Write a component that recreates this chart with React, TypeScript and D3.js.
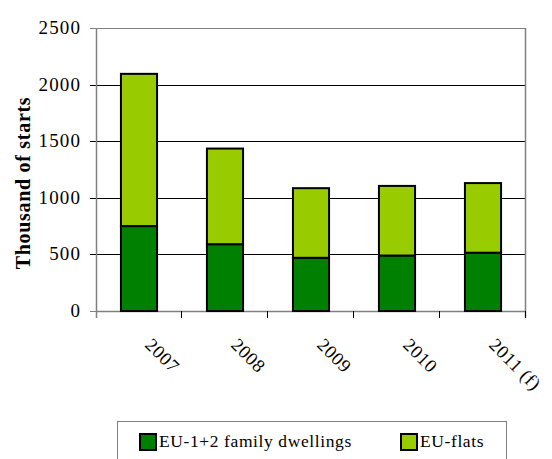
import React from "react";
import * as d3 from "d3";

const categories = ["2007", "2008", "2009", "2010", "2011 (f)"];
const familyDwellings = [750, 590, 470, 490, 515];
const flats = [1345, 845, 615, 615, 615];
const yTicks = [0, 500, 1000, 1500, 2000, 2500];
const seriesNames = ["EU-1+2 family dwellings", "EU-flats"];
const colors = ["#008000", "#99CC00"];

const W = 552, H = 459;
const left = 96, right = 526, top = 28, bottom = 311;
const FONT = "Liberation Serif, DejaVu Serif, serif";

export default function App() {
  const x = d3.scaleBand().domain(categories).range([left, right]).paddingInner(0.58).paddingOuter(0.29);
  const xb = d3.scaleBand().domain(categories).range([left, right]);
  const y = d3.scaleLinear().domain([0, 2500]).range([bottom, top]);
  const rows = categories.map((c, i) => ({ cat: c, a: familyDwellings[i], b: flats[i] }));
  const stack = d3.stack<any>().keys(["a", "b"])(rows);

  return (
    <svg width={W} height={H} style={{ position: "absolute", left: 0, top: 0, background: "#fff", fontFamily: FONT }}>
      {yTicks.map((t) => (
        <g key={t}>
          <line x1={left - 6} x2={t === 2500 || t === 0 ? left : right} y1={Math.round(y(t)) + 0.5} y2={Math.round(y(t)) + 0.5} stroke={t === 0 || t === 2500 ? "#808080" : "#000"} strokeWidth={1} />
          <text x={81} y={y(t) + 6} textAnchor="end" fontSize={19} fill="#000" letterSpacing={1.1}>{t}</text>
        </g>
      ))}
      <line x1={left} x2={right} y1={top + 0.5} y2={top + 0.5} stroke="#808080" />
      <line x1={right - 0.5} x2={right - 0.5} y1={top} y2={bottom + 7} stroke="#808080" strokeWidth={1.5} />
      <line x1={left + 0.5} x2={left + 0.5} y1={top} y2={bottom + 7} stroke="#808080" strokeWidth={1.5} />
      <line x1={left} x2={right} y1={bottom + 0.5} y2={bottom + 0.5} stroke="#808080" strokeWidth={1.5} />
      {categories.map((c) => (
        <line key={c} x1={Math.round(xb(c)! + xb.bandwidth()) - 0.5} x2={Math.round(xb(c)! + xb.bandwidth()) - 0.5} y1={bottom} y2={bottom + 7} stroke="#000" />
      ))}
      {stack.map((s, si) => (
        <g key={si}>
          {s.map((d, i) => (
            <rect key={i} x={x(categories[i])!} y={y(d[1])} width={x.bandwidth()} height={y(d[0]) - y(d[1])} fill={colors[si]} stroke="#000" strokeWidth={2} />
          ))}
        </g>
      ))}
      {categories.map((c) => {
        const cx = xb(c)! + xb.bandwidth() / 2 + 5;
        return (
          <text key={c} x={0} y={0} transform={`translate(${cx},${346}) rotate(45)`} fontSize={18.5} fill="#000" letterSpacing={0.6}>{c}</text>
        );
      })}
      <text transform={`translate(30,183) rotate(-90)`} textAnchor="middle" fontSize={20} fontWeight="bold" fill="#000" letterSpacing={0.7}>Thousand of starts</text>
      <rect x={117.5} y={421.5} width={389} height={50} fill="#fff" stroke="#808080" />
      {seriesNames.map((n, i) => {
        const lx = i === 0 ? 140 : 401;
        return (
          <g key={n}>
            <rect x={lx} y={434} width={16} height={16} fill={colors[i]} stroke="#000" strokeWidth={2} />
            <text x={lx + 19} y={447} fontSize={17.5} fill="#000" letterSpacing={0.6}>{n}</text>
          </g>
        );
      })}
    </svg>
  );
}
